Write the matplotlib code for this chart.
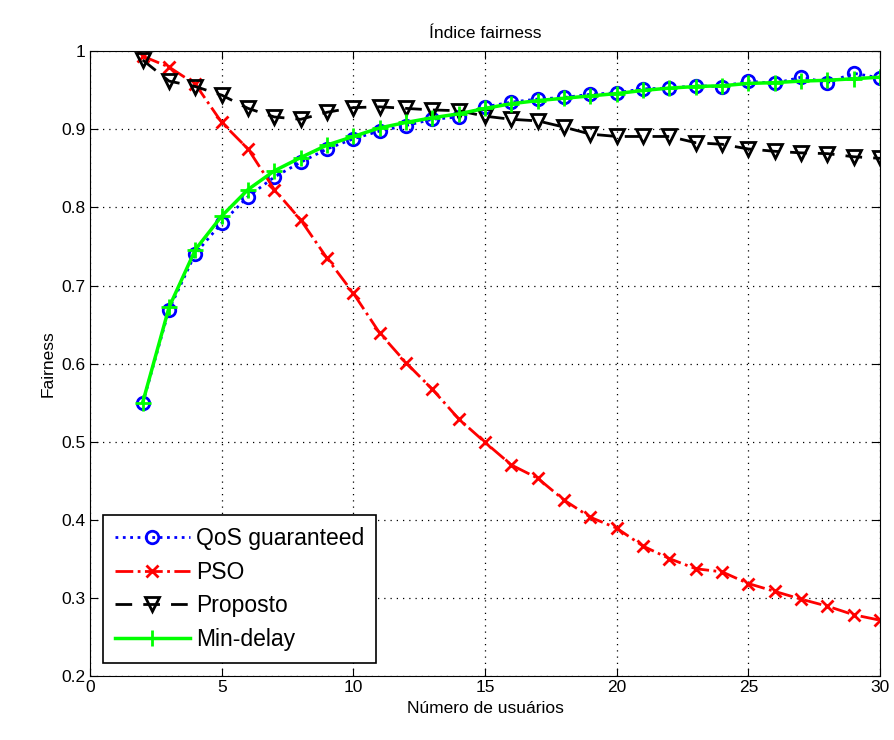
import numpy as np
import matplotlib
matplotlib.use("Agg")
import matplotlib.pyplot as plt

plt.rcParams["font.family"] = ["Liberation Sans", "DejaVu Sans"]

users = list(range(2, 31))

qos = [0.549, 0.669, 0.741, 0.780, 0.814, 0.839, 0.858, 0.875, 0.888, 0.898,
       0.905, 0.913, 0.916, 0.929, 0.935, 0.939, 0.941, 0.945, 0.947, 0.952,
       0.953, 0.956, 0.955, 0.962, 0.959, 0.967, 0.960, 0.972, 0.966]
pso = [0.994, 0.980, 0.958, 0.909, 0.875, 0.823, 0.784, 0.735, 0.690, 0.639,
       0.601, 0.567, 0.529, 0.499, 0.470, 0.453, 0.425, 0.403, 0.389, 0.366,
       0.350, 0.337, 0.333, 0.318, 0.308, 0.298, 0.289, 0.278, 0.271]
proposto = [0.989, 0.962, 0.955, 0.944, 0.927, 0.916, 0.913, 0.922, 0.928, 0.929,
            0.927, 0.925, 0.924, 0.917, 0.913, 0.911, 0.903, 0.894, 0.891, 0.891,
            0.891, 0.883, 0.881, 0.875, 0.872, 0.870, 0.869, 0.865, 0.863]
mindelay = [0.550, 0.672, 0.746, 0.789, 0.823, 0.847, 0.864, 0.880, 0.891, 0.902,
            0.909, 0.915, 0.920, 0.927, 0.933, 0.937, 0.940, 0.943, 0.946, 0.950,
            0.953, 0.955, 0.956, 0.959, 0.960, 0.962, 0.963, 0.965, 0.967]

fig = plt.figure(figsize=(8.94, 7.4), dpi=100)
ax = fig.add_axes([0.1007, 0.087, 0.8837, 0.8435])

ax.plot(users, qos, color="blue", linestyle=":", linewidth=2, marker="o",
        markersize=9, markerfacecolor="none", markeredgewidth=2, label="QoS guaranteed")
ax.plot(users, pso, color="red", linestyle="-.", linewidth=2, marker="x",
        markersize=8, markeredgewidth=2, label="PSO")
ax.plot(users, proposto, color="black", linestyle="--", linewidth=2, marker="v",
        markersize=10, markerfacecolor="none", markeredgewidth=2, label="Proposto",
        dashes=(6, 4))
ax.plot(users, mindelay, color="#00ff00", linestyle="-", linewidth=2.5, marker="+",
        markersize=11, markeredgewidth=2, label="Min-delay")

ax.set_xlim(0, 30)
ax.set_ylim(0.2, 1.0)
ax.set_xticks(np.arange(0, 31, 5))
ax.set_yticks(np.arange(0.2, 1.01, 0.1))
ax.set_yticklabels(["0.2", "0.3", "0.4", "0.5", "0.6", "0.7", "0.8", "0.9", "1"])
ax.tick_params(direction="in", top=True, right=True, labelsize=12.5, length=6)
ax.grid(True, color="black", linestyle=(0, (1, 4)), linewidth=0.9)

ax.set_title("Índice fairness", fontsize=12.5, pad=10)
ax.set_xlabel("Número de usuários", fontsize=12.5, labelpad=4)
ax.set_ylabel("Fairness", fontsize=12.5)

leg = ax.legend(loc="lower left", fontsize=16.5, handlelength=3.3, fancybox=False,
                framealpha=1, edgecolor="black", borderaxespad=0.57,
                labelspacing=0.47, handletextpad=0.26, borderpad=0.5)
leg.get_frame().set_linewidth(1.2)

fig.savefig("out.png", dpi=100)
